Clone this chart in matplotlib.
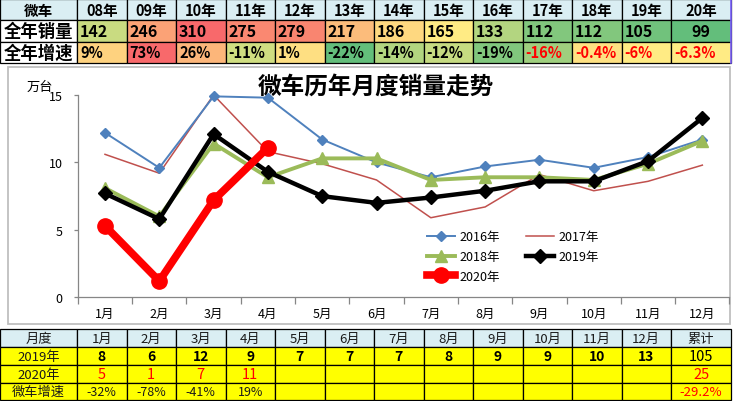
"""Mini-van yearly / monthly sales chart with summary tables above and below."""

import matplotlib

matplotlib.use("Agg")

import numpy as np
import matplotlib.pyplot as plt
from matplotlib.patches import Rectangle

plt.rcParams["font.family"] = ["Noto Sans CJK SC", "DejaVu Sans"]
plt.rcParams["axes.unicode_minus"] = False

# ---- data -----------------------------------------------------------------
years = ["08年", "09年", "10年", "11年", "12年", "13年", "14年",
         "15年", "16年", "17年", "18年", "19年", "20年"]
annual_sales = [142, 246, 310, 275, 279, 217, 186, 165, 133, 112, 112, 105, 99]
annual_growth = [9, 73, 26, -11, 1, -22, -14, -12, -19, -16, -0.4, -6, -6.3]
growth_labels = ["9%", "73%", "26%", "-11%", "1%", "-22%", "-14%",
                 "-12%", "-19%", "-16%", "-0.4%", "-6%", "-6.3%"]

months = ["1月", "2月", "3月", "4月", "5月", "6月",
          "7月", "8月", "9月", "10月", "11月", "12月"]
sales_2016 = [12.2, 9.6, 14.9, 14.8, 11.7, 10.0, 8.9, 9.7, 10.2, 9.6, 10.4, 11.7]
sales_2017 = [10.6, 9.2, 15.0, 10.8, 9.9, 8.7, 5.9, 6.7, 9.1, 7.9, 8.6, 9.8]
sales_2018 = [8.1, 6.0, 11.4, 8.9, 10.3, 10.3, 8.7, 8.9, 8.9, 8.7, 9.9, 11.6]
sales_2019 = [7.7, 5.8, 12.1, 9.3, 7.5, 7.0, 7.4, 7.9, 8.6, 8.6, 10.1, 13.3]
sales_2020 = [5.3, 1.2, 7.2, 11.1]

table_2019 = ["8", "6", "12", "9", "7", "7", "7", "8", "9", "9", "10", "13"]
table_2020 = ["5", "1", "7", "11"]
table_growth = ["-32%", "-78%", "-41%", "19%"]
total_2019 = "105"
total_2020 = "25"
total_growth = "-29.2%"

# ---- layout (pixels) ------------------------------------------------------
W, H = 733, 402
COL_EDGES = [0, 77] + [77 + 49.5 * i for i in range(1, 13)] + [731]
TOP_ROWS = [0, 20.5, 42.5, 63.5]
BOT_ROWS = [330, 348, 366, 383.5, 401]
HEADER_BLUE = "#DAEEF3"
YELLOW = "#FFFF00"


def excel_color_scale(values):
    """Excel style green-yellow-red 3 colour scale (min / median / max)."""
    green = np.array([0x63, 0xBE, 0x7B]) / 255
    yellow = np.array([0xFF, 0xEB, 0x84]) / 255
    red = np.array([0xF8, 0x69, 0x6B]) / 255
    lo, hi, mid = min(values), max(values), float(np.median(values))
    out = []
    for v in values:
        if v <= mid:
            t = (v - lo) / (mid - lo)
            out.append(green + t * (yellow - green))
        else:
            t = (v - mid) / (hi - mid)
            out.append(yellow + t * (red - yellow))
    return out


def cell(ax, col, rows, row, fill, text="", **kw):
    x0, x1 = COL_EDGES[col], COL_EDGES[col + 1]
    y0, y1 = rows[row], rows[row + 1]
    ax.add_patch(Rectangle((x0, y0), x1 - x0, y1 - y0, facecolor=fill,
                           edgecolor="black", linewidth=0.9, zorder=2))
    if text:
        ha = kw.pop("ha", "center")
        tx = (x0 + x1) / 2 if ha == "center" else x0 + 3
        ax.text(tx, (y0 + y1) / 2 + 0.5, text, ha=ha, va="center",
                zorder=3, **kw)


fig = plt.figure(figsize=(W / 100, H / 100), dpi=100)
bg = fig.add_axes([0, 0, 1, 1])
bg.set_xlim(0, W)
bg.set_ylim(H, 0)
bg.axis("off")

# ---- top table ------------------------------------------------------------
cell(bg, 0, TOP_ROWS, 0, HEADER_BLUE, "微车", fontsize=10.5, fontweight="bold")
cell(bg, 0, TOP_ROWS, 1, "white", "全年销量", fontsize=12.5, fontweight="bold")
cell(bg, 0, TOP_ROWS, 2, "white", "全年增速", fontsize=12.5, fontweight="bold")
sales_colors = excel_color_scale(annual_sales)
growth_colors = excel_color_scale(annual_growth)
for i, yr in enumerate(years):
    last = i == len(years) - 1
    cell(bg, i + 1, TOP_ROWS, 0, HEADER_BLUE, yr, fontsize=10.5,
         fontweight="bold")
    cell(bg, i + 1, TOP_ROWS, 1, sales_colors[i], str(annual_sales[i]),
         ha="center" if last else "left", fontsize=11.5, fontweight="bold")
    cell(bg, i + 1, TOP_ROWS, 2, growth_colors[i], growth_labels[i],
         ha="left", fontsize=10.5, fontweight="bold",
         color="#FF0000" if i >= 9 else "black")
# selection highlight on the right edge of the last column
bg.plot([731, 731], [0, 63.5], color="#7B61FF", lw=1.2, zorder=4)

# ---- chart frame ----------------------------------------------------------
bg.add_patch(Rectangle((8, 68), 722, 257, facecolor="white",
                       edgecolor="#BFBFBF", linewidth=1.3, zorder=1))
bg.text(376, 88, "微车历年月度销量走势", ha="center", va="center",
        fontsize=17, fontweight="bold", zorder=3)
bg.text(40, 87, "万台", ha="center", va="center", fontsize=9.5, zorder=3)

# ---- bottom table ---------------------------------------------------------
txt = dict(fontsize=9.5, color="#1A1A1A")
cell(bg, 0, BOT_ROWS, 0, HEADER_BLUE, "月度", **txt)
cell(bg, 0, BOT_ROWS, 1, YELLOW, "2019年", **txt)
cell(bg, 0, BOT_ROWS, 2, YELLOW, "2020年", **txt)
cell(bg, 0, BOT_ROWS, 3, YELLOW, "微车增速", **txt)
for i, m in enumerate(months):
    cell(bg, i + 1, BOT_ROWS, 0, HEADER_BLUE, m, **txt)
    cell(bg, i + 1, BOT_ROWS, 1, YELLOW, table_2019[i], fontsize=10,
         fontweight="bold")
    cell(bg, i + 1, BOT_ROWS, 2, YELLOW,
         table_2020[i] if i < len(table_2020) else "",
         fontsize=10.5, color="#FF0000")
    cell(bg, i + 1, BOT_ROWS, 3, YELLOW,
         table_growth[i] if i < len(table_growth) else "",
         fontsize=9, color="#1A1A1A")
cell(bg, 13, BOT_ROWS, 0, HEADER_BLUE, "累计", **txt)
cell(bg, 13, BOT_ROWS, 1, YELLOW, total_2019, fontsize=10.5)
cell(bg, 13, BOT_ROWS, 2, YELLOW, total_2020, fontsize=10.5, color="#FF0000")
cell(bg, 13, BOT_ROWS, 3, YELLOW, total_growth, fontsize=9.5, color="#FF0000")

# ---- line chart -----------------------------------------------------------
ax_l, ax_r, ax_top, ax_bot = 77.85, 729.5, 96.0, 298.3
ax = fig.add_axes([ax_l / W, 1 - ax_bot / H, (ax_r - ax_l) / W,
                   (ax_bot - ax_top) / H])
ax.set_facecolor("none")
x = np.arange(len(months))

ax.plot(x, sales_2016, color="#4F81BD", lw=1.4, marker="D", ms=5,
        label="2016年", zorder=3, clip_on=False)
ax.plot(x, sales_2017, color="#C0504D", lw=1.1, label="2017年", zorder=2,
        clip_on=False)
ax.plot(x, sales_2018, color="#9BBB59", lw=2.8, marker="^", ms=8.5,
        label="2018年", zorder=4, clip_on=False)
ax.plot(x, sales_2019, color="black", lw=3.2, marker="D", ms=7,
        label="2019年", zorder=5, clip_on=False)
ax.plot(x[:len(sales_2020)], sales_2020, color="#FF0000", lw=5.5,
        marker="o", ms=11, label="2020年", zorder=6, clip_on=False)

ax.set_xlim(-0.5, len(months) - 0.5)
ax.set_ylim(0, 15)
ax.set_yticks([0, 5, 10, 15])
ax.set_xticks(x)
ax.set_xticklabels(months)
ax.set_xticks(np.arange(-0.5, len(months), 1), minor=True)
ax.tick_params(axis="x", which="major", length=0, pad=7, labelsize=9)
ax.tick_params(axis="x", which="minor", length=5, width=0.9,
               color="#868686")
ax.tick_params(axis="y", length=3, width=0.9, color="#868686", pad=8,
               labelsize=9)
for side in ("top", "right"):
    ax.spines[side].set_visible(False)
for side in ("left", "bottom"):
    ax.spines[side].set_color("#868686")
    ax.spines[side].set_linewidth(0.9)

handles, labels = ax.get_legend_handles_labels()
order = [0, 2, 4, 1, 3]
ax.legend([handles[i] for i in order], [labels[i] for i in order],
          ncol=2, frameon=False, loc="upper left",
          bbox_to_anchor=(427 / W, 1 - 231 / H),
          bbox_transform=fig.transFigure, borderpad=0, borderaxespad=0,
          handlelength=2.2, handletextpad=0.4, columnspacing=2.1,
          labelspacing=0.55, fontsize=9)

fig.savefig("out.png", dpi=100)
